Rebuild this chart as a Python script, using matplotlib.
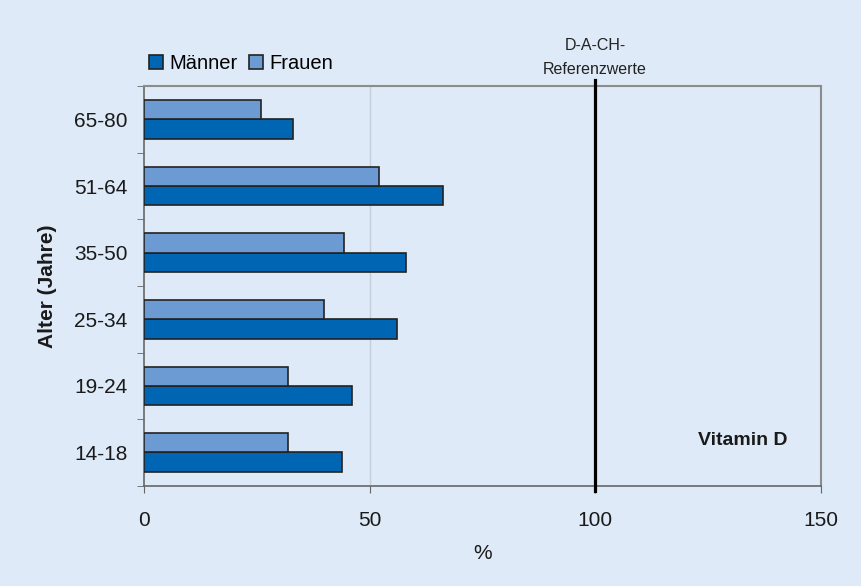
import numpy as np
import matplotlib
matplotlib.use('Agg')
import matplotlib.pyplot as plt

plt.rcParams['font.family'] = ['Liberation Sans', 'DejaVu Sans']

# Data (% of D-A-CH reference value, vitamin D)
age_groups = ['14-18', '19-24', '25-34', '35-50', '51-64', '65-80']
maenner = [44.0, 46.2, 56.2, 58.0, 66.2, 33.1]
frauen = [31.9, 31.9, 39.9, 44.3, 52.0, 26.0]
x_ticks = [0, 50, 100, 150]
reference = 100

bg = '#DEEAF7'
c_m = '#0066B3'
c_f = '#6B9BD2'

fig = plt.figure(figsize=(8.62, 5.86), dpi=100, facecolor=bg)
ax = fig.add_axes([0.167, 0.171, 0.785, 0.682], facecolor=bg)

y = np.arange(len(age_groups))
h = 0.29
ax.barh(y - h / 2, maenner, height=h, color=c_m, edgecolor='#222222', linewidth=1.2, label='Männer', zorder=3)
ax.barh(y + h / 2, frauen, height=h, color=c_f, edgecolor='#222222', linewidth=1.2, label='Frauen', zorder=3)

ax.set_xlim(0, 150)
ax.set_ylim(-0.5, len(age_groups) - 0.5)

# grid line at 50 only
ax.axvline(50, color='#C5CED9', linewidth=1, zorder=1)

# reference line
ax.axvline(reference, ymin=-0.012, ymax=1.015, color='black', linewidth=2.3, clip_on=False, zorder=4)
ax.text(reference, len(age_groups) - 0.5 + 0.13, 'D-A-CH-\nReferenzwerte', ha='center', va='bottom',
        fontsize=11.5, color='#222222', linespacing=1.8)

ax.text(132.8, 0.18, 'Vitamin D', ha='center', va='center', fontsize=14, fontweight='bold', color='#1a1a1a')

# axes styling
ax.set_xticks(x_ticks)
ax.set_yticks(y)
ax.set_yticklabels(age_groups)
ax.set_yticks(np.arange(-0.5, len(age_groups)), minor=True)
ax.tick_params(axis='y', which='major', length=0, pad=12, labelsize=15, colors='#1a1a1a')
ax.tick_params(axis='y', which='minor', length=5, direction='out', color='#666666')
ax.tick_params(axis='x', length=5, direction='out', color='#666666', pad=13, labelsize=15, labelcolor='#1a1a1a')

for side in ['left', 'bottom']:
    ax.spines[side].set_color('#666666')
    ax.spines[side].set_linewidth(1.2)
for side in ['top', 'right']:
    ax.spines[side].set_color('#8C8C8C')
    ax.spines[side].set_linewidth(1.5)

ax.set_xlabel('%', fontsize=15, labelpad=10, color='#1a1a1a')
ax.set_ylabel('Alter (Jahre)', fontsize=15, fontweight='bold', labelpad=12, color='#1a1a1a')

ax.legend(loc='lower left', bbox_to_anchor=(-0.012, 1.0), ncol=2, frameon=False, fontsize=14.5,
          handlelength=0.7, handleheight=0.7, handletextpad=0.3, columnspacing=0.6,
          borderaxespad=0.25)

fig.savefig('out.png', dpi=100, facecolor=bg)
